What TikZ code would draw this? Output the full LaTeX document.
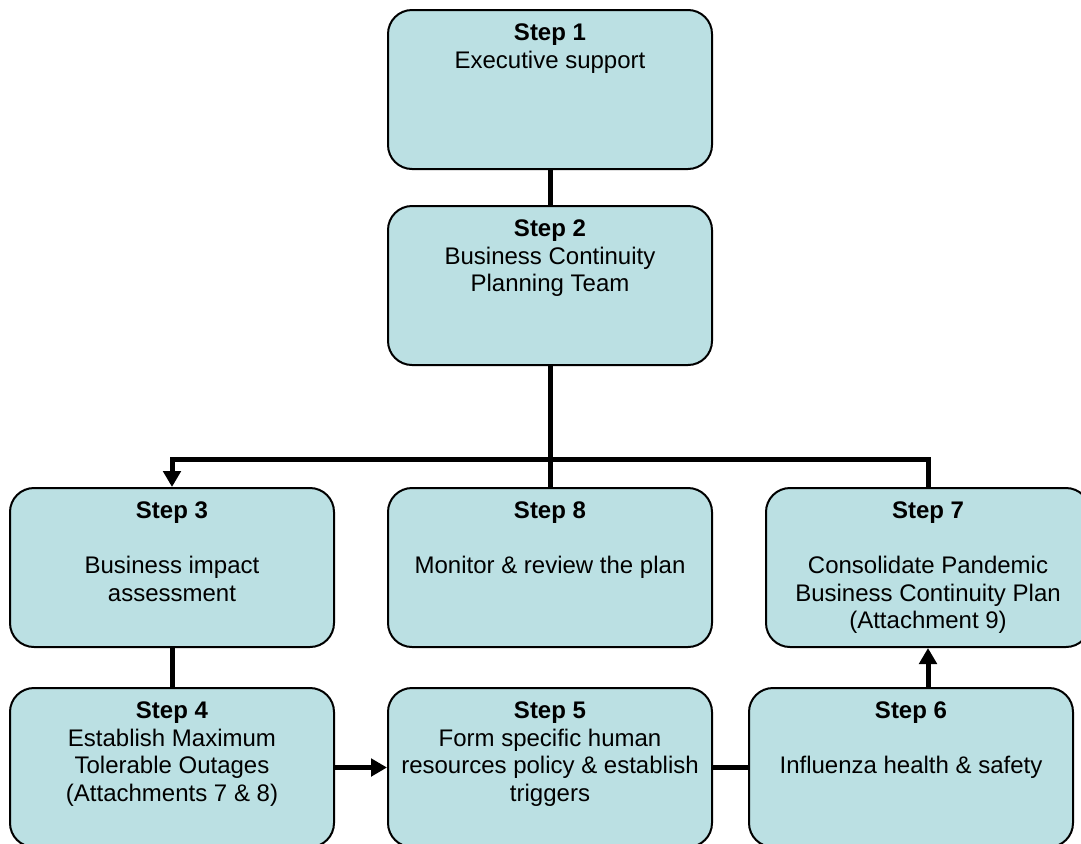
\documentclass[tikz,border=0pt]{standalone}
\usepackage{fontspec}
\setmainfont{Liberation Sans}
\usetikzlibrary{arrows.meta}
\definecolor{boxblue}{HTML}{BBE0E3}
\begin{document}
\begin{tikzpicture}[x=0.75pt,y=-0.75pt,
	stepbox/.style={draw,line width=1.5pt,rounded corners=18pt,fill=boxblue,minimum width=243pt,minimum height=119.25pt,inner sep=0pt},
	steptext/.style={anchor=north,align=center,inner sep=0pt,yshift=-11pt,font=\fontsize{18}{20.6}\selectfont},
	link/.style={line width=3.75pt},
	arrowlink/.style={link,-{Triangle[length=12pt,width=13pt]}}]
	\useasboundingbox (0,0) rectangle (1081,843);
	\clip (0,0) rectangle (1081,843);
	% boxes
	\node[stepbox] (s1) at (550,89.5) {};
	\node[stepbox] (s2) at (550,285.5) {};
	\node[stepbox] (s3) at (172,567.5) {};
	\node[stepbox] (s8) at (550,567.5) {};
	\node[stepbox] (s7) at (928,567.5) {};
	\node[stepbox] (s4) at (172,767.5) {};
	\node[stepbox] (s5) at (550,767.5) {};
	\node[stepbox] (s6) at (911,767.5) {};
	% texts
	\node[steptext] (s1t) at (s1.north) {\textbf{Step 1}\\Executive support};
	\node[steptext] (s2t) at (s2.north) {\textbf{Step 2}\\Business Continuity\\Planning Team};
	\node[steptext] (s3t) at (s3.north) {\textbf{Step 3}\\[\baselineskip]Business impact\\assessment};
	\node[steptext] (s8t) at (s8.north) {\textbf{Step 8}\\[\baselineskip]Monitor \& review the plan};
	\node[steptext] (s7t) at (s7.north) {\textbf{Step 7}\\[\baselineskip]Consolidate Pandemic\\Business Continuity Plan\\(Attachment 9)};
	\node[steptext] (s4t) at (s4.north) {\textbf{Step 4}\\Establish Maximum\\Tolerable Outages\\(Attachments 7 \& 8)};
	\node[steptext] (s5t) at (s5.north) {\textbf{Step 5}\\Form specific human\\resources policy \& establish\\triggers};
	\node[steptext] (s6t) at (s6.north) {\textbf{Step 6}\\[\baselineskip]Influenza health \& safety};
	% connectors
	\coordinate (bus) at (550,459);
	\draw[link] (s1.south) -- (s2.north);
	\draw[link] (s2.south) -- (s8.north);
	\draw[arrowlink] (s7.north) |- (bus) -| (s3.north);
	\draw[link] (s3) -- (s4);
	\draw[arrowlink] (s4) -- (s5);
	\draw[link] (s5) -- (s6);
	\draw[arrowlink] (s6.north -| s7.south) -- (s7.south);
\end{tikzpicture}
\end{document}
